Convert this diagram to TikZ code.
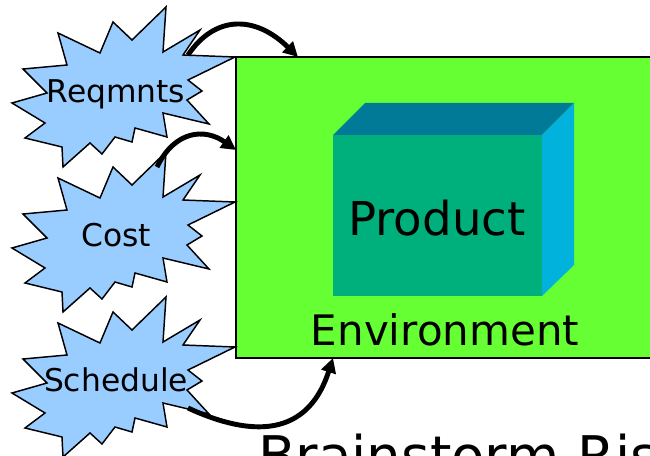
\documentclass[tikz,border=0pt]{standalone}
\usepackage{fontspec}
\setmainfont{DejaVu Sans}
\usetikzlibrary{positioning, calc, arrows.meta}

\definecolor{burstblue}{HTML}{99CCFF}
\definecolor{envgreen}{HTML}{66FF33}
\definecolor{frontgreen}{HTML}{00B07C}
\definecolor{topteal}{HTML}{007A96}
\definecolor{sidecyan}{HTML}{00B2DC}

\begin{document}
\begin{tikzpicture}[x=0.75pt, y=-0.75pt,
    burst/.pic={
      \draw[fill=burstblue, line width=1.1pt, line join=miter]
        (166,7) -- (163,52) -- (200,30) -- (183,55) -- (235,57) -- (188,80)
        -- (202,91) -- (187,100) -- (209,124) -- (163,113) -- (167,137)
        -- (135,128) -- (132,142) -- (115,137) -- (102,154) -- (90,143)
        -- (63,167) -- (62,147) -- (25,138) -- (45,123) -- (12,103)
        -- (47,93) -- (23,69) -- (67,65) -- (58,33) -- (100,53)
        -- (113,22) -- (132,40) -- cycle;
    },
    burstlabel/.style={font=\fontsize{23.5}{23.5}\selectfont, anchor=base, inner sep=0pt},
    envbox/.style={draw, line width=1.2pt, fill=envgreen, inner sep=0pt, outer sep=0pt,
      minimum width=318pt, minimum height=225.75pt, anchor=north west},
    flow/.style={line width=3.7pt, -{Triangle[length=11pt, width=11pt]}}]
            \useasboundingbox (0,0) rectangle (650,456);
            \clip (0,0) rectangle (650,456);

            \node[envbox] (env) at (236,57) {};

            % the product box, front face plus two faces for depth
            \node[fill=frontgreen, inner sep=0pt, outer sep=0pt, anchor=north west,
              minimum width=156.75pt, minimum height=120.75pt] (prod) at (333,135) {};
            \fill[topteal] (prod.north west) -- ++(32,-32) -- ++(209,0) -- (prod.north east) -- cycle;
            \fill[sidecyan] (prod.north east) -- ++(32,-32) -- ++(0,162) -- (prod.south east) -- cycle;
            \node[font=\fontsize{35}{35}\selectfont, anchor=base, inner sep=0pt] (prodlabel) at (437,236) {Product};
            \node[font=\fontsize{31.5}{31.5}\selectfont, anchor=base, inner sep=0pt] (envlabel) at (445,345) {Environment};

            % the three bursts
            \pic at (0,0) {burst};
            \pic at (0,145) {burst};
            \pic at (0,290) {burst};
            \node[burstlabel] (req) at (116,103) {Reqmnts};
            \node[burstlabel] (cost) at (116,247) {Cost};
            \node[burstlabel] (sched) at (116,391) {Schedule};

            \coordinate (reqout) at (188,55);
            \coordinate (costout) at (157,167);
            \coordinate (schedout) at (188,408);

            \draw[flow] (reqout) .. controls (215,15) and (255,15) .. ($(env.north west)+(62,0)$);
            \draw[flow] (costout) .. controls (175,130) and (205,128) .. ($(env.north west)+(0,93)$);
            \draw[flow] (schedout) .. controls (240,432) and (305,445) .. ($(env.south west)+(97,0)$);

            \node[font=\fontsize{41}{41}\selectfont, anchor=base west, inner sep=0pt] (title) at (258,475) {Brainstorm Risks};
          \end{tikzpicture}
\end{document}
